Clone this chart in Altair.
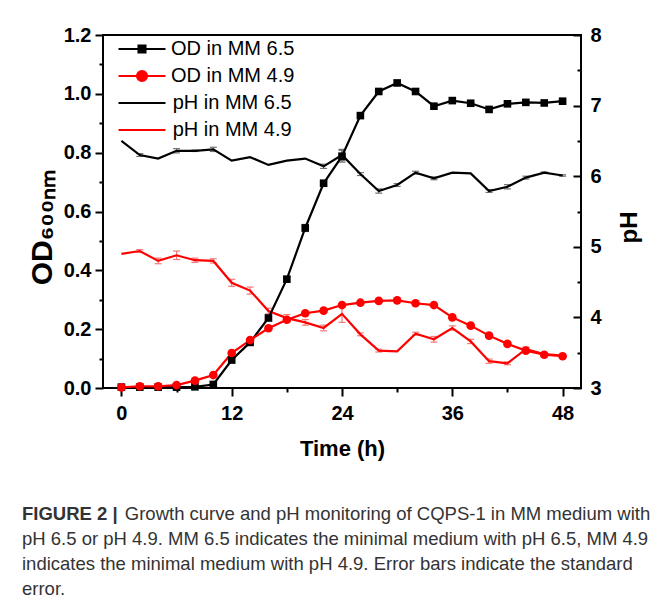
import math
import altair as alt
import pandas as pd

# ---------------- data ----------------
times = [0, 2, 4, 6, 8, 10, 12, 14, 16, 18, 20, 22, 24,
         26, 28, 30, 32, 34, 36, 38, 40, 42, 44, 46, 48]

od_mm65 = [0.003, 0.003, 0.003, 0.003, 0.004, 0.012, 0.095, 0.155, 0.238, 0.370,
           0.544, 0.696, 0.788, 0.926, 1.008, 1.037, 1.008, 0.958, 0.977, 0.968,
           0.947, 0.966, 0.971, 0.969, 0.975]
od_mm65_err = [0, 0, 0, 0, 0, 0, 0, 0, 0, 0.006,
               0.012, 0.010, 0.020, 0, 0, 0, 0, 0, 0, 0,
               0, 0, 0, 0, 0]

od_mm49 = [0.002, 0.006, 0.006, 0.010, 0.025, 0.044, 0.119, 0.163, 0.203, 0.232,
           0.254, 0.263, 0.282, 0.290, 0.296, 0.298, 0.288, 0.282, 0.240, 0.212,
           0.178, 0.150, 0.127, 0.113, 0.108]
od_mm49_err = [0, 0, 0, 0, 0, 0, 0, 0, 0, 0,
               0, 0, 0, 0, 0, 0, 0, 0, 0, 0,
               0, 0, 0, 0, 0]

ph_mm65 = [6.50, 6.30, 6.25, 6.36, 6.36, 6.38, 6.22, 6.27, 6.16, 6.22,
           6.25, 6.14, 6.30, 6.03, 5.79, 5.875, 6.05, 5.97, 6.05, 6.04,
           5.79, 5.85, 5.98, 6.05, 6.01]
ph_mm65_err = [0, 0.02, 0, 0.03, 0.01, 0.03, 0, 0, 0, 0,
               0, 0.03, 0.08, 0.02, 0.03, 0.02, 0.02, 0.02, 0, 0,
               0.02, 0.03, 0.02, 0.01, 0.01]

ph_mm49 = [4.90, 4.94, 4.80, 4.88, 4.81, 4.80, 4.49, 4.38, 4.09, 3.99,
           3.93, 3.85, 4.05, 3.76, 3.53, 3.52, 3.77, 3.69, 3.85, 3.66,
           3.38, 3.35, 3.55, 3.48, 3.46]
ph_mm49_err = [0, 0.02, 0.04, 0.06, 0.03, 0.03, 0.05, 0.05, 0.04, 0.05,
               0.04, 0.04, 0.12, 0.02, 0.02, 0, 0.02, 0.04, 0.03, 0.03,
               0.03, 0.02, 0.03, 0.02, 0]

series_names = ["OD in MM 6.5", "OD in MM 4.9", "pH in MM 6.5", "pH in MM 4.9"]
line_colors = ["#000000", "#ff0000", "#000000", "#ff0000"]
error_colors = ["#707070", "#f27a7a", "#707070", "#f27a7a"]

x_ticks = [0, 12, 24, 36, 48]
x_minor = [6, 18, 30, 42]
od_ticks = [0.0, 0.2, 0.4, 0.6, 0.8, 1.0, 1.2]
od_minor = [0.1, 0.3, 0.5, 0.7, 0.9, 1.1]
ph_ticks = [3, 4, 5, 6, 7, 8]
ph_minor = [3.5, 4.5, 5.5, 6.5, 7.5]

caption_lead = "FIGURE 2 |"
caption_lines = [
    "Growth curve and pH monitoring of CQPS-1 in MM medium with",
    "pH 6.5 or pH 4.9. MM 6.5 indicates the minimal medium with pH 6.5, MM 4.9",
    "indicates the minimal medium with pH 4.9. Error bars indicate the standard",
    "error.",
]

# ---------------- tables ----------------
def frame(values, errs, idx):
    return pd.DataFrame({
        "t": times,
        "v": values,
        "e": errs,
        "lo": [v - e for v, e in zip(values, errs)],
        "hi": [v + e for v, e in zip(values, errs)],
        "series": series_names[idx],
        "lc": line_colors[idx],
        "ec": error_colors[idx],
    })

od_df = pd.concat([frame(od_mm65, od_mm65_err, 0), frame(od_mm49, od_mm49_err, 1)], ignore_index=True)
ph_df = pd.concat([frame(ph_mm65, ph_mm65_err, 2), frame(ph_mm49, ph_mm49_err, 3)], ignore_index=True)

FONT = "Liberation Sans"

x_scale = alt.Scale(domain=[-2, 50], nice=False, zero=False)
od_scale = alt.Scale(domain=[0, 1.2], nice=False, zero=False)
ph_scale = alt.Scale(domain=[3, 8], nice=False, zero=False)
color_scale = alt.Scale(domain=series_names, range=line_colors)
stroke_scale = alt.Scale(domain=series_names, range=line_colors)

# legend symbols: line + marker (unit = half the nominal symbol width)
circle_pts = "".join(
    f"{'M' if k == 0 else 'L'}{0.43 * math.cos(2 * math.pi * k / 16):.3f},{0.43 * math.sin(2 * math.pi * k / 16):.3f}"
    for k in range(16)
)
legend_shapes = [
    "M-2,0H2M-0.3,-0.3H0.3V0.3H-0.3Z",
    "M-2,0H2" + circle_pts + "Z",
    "M-2,0H2",
    "M-2,0H2",
]
shape_scale = alt.Scale(domain=series_names, range=legend_shapes)

common = dict(grid=False, domain=False, tickColor="black", tickWidth=2, labelFlush=False,
              labelFont=FONT, labelColor="black", labelFontWeight="bold", labelFontSize=20,
              titleFont=FONT, titleColor="black", titleFontWeight="bold")

x_main_axis = alt.Axis(orient="bottom", values=x_ticks, tickSize=8, labelPadding=7, format="d",
                       title="Time (h)", titleFontSize=22, titlePadding=15, **common)
x_minor_axis = alt.Axis(orient="bottom", values=x_minor, tickSize=4, labels=False, title=None, **common)
od_main_axis = alt.Axis(orient="left", values=od_ticks, tickSize=8, labelPadding=4, format=".1f",
                        title="OD₆₀₀ₙₘ", titleFontSize=30, titleAngle=270, titleX=-61, titleY=192,
                        titleBaseline="middle", titleAlign="center", **common)
od_minor_axis = alt.Axis(orient="left", values=od_minor, tickSize=4, labels=False, title=None, **common)
ph_label_axis = alt.Axis(orient="right", values=ph_ticks, ticks=False, labelPadding=9, format="d",
                         title="pH", titleFontSize=24, titleAngle=270, titleX=48, titleY=192,
                         titleBaseline="middle", titleAlign="center", **common)
ph_tick_axis = alt.Axis(orient="right", values=ph_ticks, offset=-8, tickSize=8, labels=False,
                        title=None, **common)
ph_minor_axis = alt.Axis(orient="right", values=ph_minor, offset=-4, tickSize=4, labels=False,
                         title=None, **common)

X_none = alt.X("t:Q", scale=x_scale, axis=None)
line_color = alt.Color("lc:N", scale=None)

base_od = alt.Chart(od_df)
base_ph = alt.Chart(ph_df)


def error_layers(base, scale):
    b = base.transform_filter("datum.e > 0")
    col = alt.Color("ec:N", scale=None)
    rule = b.mark_rule(strokeWidth=1.2).encode(
        x=X_none, y=alt.Y("lo:Q", scale=scale, axis=None), y2="hi:Q", color=col)
    lo = b.mark_tick(orient="horizontal", size=7, thickness=1.2, opacity=1).encode(
        x=X_none, y=alt.Y("lo:Q", scale=scale, axis=None), color=col)
    hi = b.mark_tick(orient="horizontal", size=7, thickness=1.2, opacity=1).encode(
        x=X_none, y=alt.Y("hi:Q", scale=scale, axis=None), color=col)
    return [rule, lo, hi]


ph_line = base_ph.mark_line(strokeWidth=2.2).encode(
    x=X_none,
    y=alt.Y("v:Q", scale=ph_scale, axis=ph_label_axis),
    color=line_color, detail="series:N",
)
ph_tick_layer = base_ph.transform_filter("false").mark_point().encode(
    x=X_none, y=alt.Y("v:Q", scale=ph_scale, axis=ph_tick_axis))
ph_minor_layer = base_ph.transform_filter("false").mark_point().encode(
    x=X_none, y=alt.Y("v:Q", scale=ph_scale, axis=ph_minor_axis))

od_line = base_od.mark_line(strokeWidth=2.2).encode(
    x=alt.X("t:Q", scale=x_scale, axis=x_main_axis),
    y=alt.Y("v:Q", scale=od_scale, axis=od_main_axis),
    color=line_color, detail="series:N",
)
od_minor_layer = base_od.transform_filter("false").mark_point().encode(
    x=alt.X("t:Q", scale=x_scale, axis=x_minor_axis),
    y=alt.Y("v:Q", scale=od_scale, axis=od_minor_axis))

od_squares = base_od.transform_filter(alt.datum.series == series_names[0]).mark_square(
    size=58, opacity=1, color="#000000").encode(
    x=X_none, y=alt.Y("v:Q", scale=od_scale, axis=None))
od_circles = base_od.transform_filter(alt.datum.series == series_names[1]).mark_circle(
    size=75, opacity=1, color="#ff0000").encode(
    x=X_none, y=alt.Y("v:Q", scale=od_scale, axis=None))

legend = alt.Legend(
    orient="none", legendX=26, legendY=1, title=None, padding=0,
    symbolSize=552, symbolStrokeWidth=2, symbolOpacity=1,
    labelFont=FONT, labelFontSize=20, labelColor="black", labelOffset=16,
    rowPadding=4,
    labelExpr="indexof(datum.label, 'pH') === 0 ? '\u200b\u200a' + datum.label : datum.label",
)
legend_layer = base_od.transform_filter("false").mark_point(filled=True, opacity=1).encode(
    x=X_none,
    y=alt.Y("v:Q", scale=od_scale, axis=None),
    color=alt.Color("series:N", scale=color_scale, legend=legend),
    stroke=alt.Stroke("series:N", scale=stroke_scale, legend=legend),
    shape=alt.Shape("series:N", scale=shape_scale, legend=legend),
)

caption_title = alt.TitleParams(
    text=caption_lead,
    subtitle=["\u200b" + "\u00a0" * 20 + caption_lines[0]] + caption_lines[1:],
    orient="bottom", anchor="start", frame="group", dx=-81, offset=46,
    font=FONT, fontSize=18.5, fontWeight="bold", color="#333333",
    subtitleFont=FONT, subtitleFontSize=18.5, subtitleFontWeight="normal",
    subtitleColor="#333333", subtitleLineHeight=25, subtitlePadding=-18.5,
)

layers = (error_layers(base_ph, ph_scale) + error_layers(base_od, od_scale) +
          [ph_line, ph_tick_layer, ph_minor_layer, od_line, od_minor_layer,
           od_squares, od_circles, legend_layer])

chart = alt.layer(*layers).resolve_scale(
    y="independent"
).resolve_axis(
    x="independent", y="independent"
).properties(
    width=478, height=353,
    padding={"left": 95, "top": 27, "right": 75, "bottom": 208},
    autosize=alt.AutoSizeParams(type="none"),
    title=caption_title,
).configure(
    background="white"
).configure_view(
    stroke="black", strokeWidth=2
)

chart.save("out.html", embed_options={"renderer": "svg", "actions": False})
